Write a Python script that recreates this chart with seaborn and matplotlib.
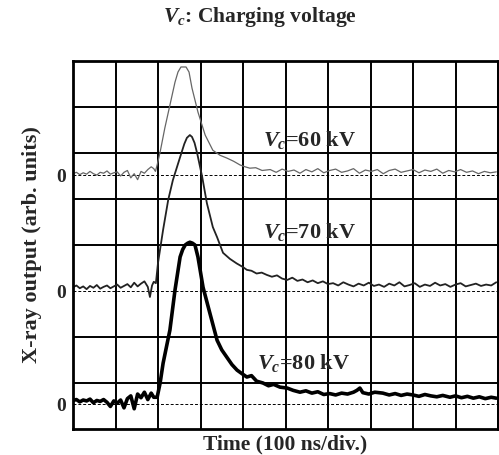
import numpy as np
import pandas as pd
import matplotlib
matplotlib.use("Agg")
import matplotlib.pyplot as plt
import seaborn as sns

# -----------------------------------------------------------
# DATA (time in ns, amplitude in divisions above each trace's zero line)

t60 = [0, 8, 16, 24, 32, 40, 48, 56, 64, 72, 80, 88, 96, 104, 112, 120, 128, 136, 144, 152,
       160, 168, 176, 184, 190, 194, 198,
       205, 216, 228, 240, 247, 254, 266, 273, 280, 294, 311, 329, 346, 362, 378, 393, 405, 416,
       430, 445, 464,
       478, 492, 506, 520, 534, 548, 562, 576, 590, 604, 618, 632, 646, 660, 674, 688, 702, 716,
       730, 744, 758, 772, 786, 800, 814, 828, 842, 856, 870, 884, 898, 912, 926, 940, 954, 968,
       982, 996]
a60 = [0.03, 0.06, 0.01, 0.05, 0.02, 0.08, 0.03, 0.00, 0.06, 0.04, 0.09, 0.02, 0.05, 0.07, -0.02,
       0.06, 0.10, -0.06, 0.03, -0.10,
       0.08, 0.04, 0.12, 0.18, 0.14, 0.08, 0.22,
       0.50, 1.02, 1.52, 2.02, 2.24, 2.35, 2.35, 2.24, 1.89, 1.37, 0.87, 0.54, 0.43, 0.37, 0.30,
       0.22, 0.18, 0.15,
       0.16, 0.10, 0.12,
       0.06, 0.13, 0.08, 0.11, 0.04, 0.12, 0.07, 0.14, 0.05, 0.10, 0.13, 0.06, 0.09, 0.14, 0.04,
       0.11, 0.08, 0.12, 0.03, 0.10, 0.13, 0.06, 0.09, 0.12, 0.05, 0.11, 0.08, 0.13, 0.04, 0.10,
       0.07, 0.12, 0.06, 0.09, 0.03, 0.08, 0.05, 0.07]

t70 = [0, 8, 16, 24, 32, 40, 48, 56, 64, 72, 80, 88, 96, 104, 112, 120, 128, 136, 144, 152,
       160, 168, 176, 181, 186, 190, 195,
       200, 212, 224, 235, 252, 262, 268, 275, 280, 286, 292, 304, 315, 329, 339, 353, 369, 385,
       400, 409, 420, 432, 444, 456, 468, 480, 492, 504, 516, 528, 540, 552, 564, 576, 588, 600,
       612, 624, 636, 648, 660, 672, 684, 696, 708, 720, 732, 744, 756, 768, 780, 792, 804, 816,
       828, 840, 852, 864, 876, 888, 900, 912, 924, 936, 948, 960, 972, 984, 996]
a70 = [0.08, 0.12, 0.06, 0.10, 0.04, 0.11, 0.07, 0.13, 0.05, 0.09, 0.12, 0.06, 0.10, 0.14, 0.07,
       0.11, 0.15, 0.08, 0.18, 0.10,
       0.16, 0.21, 0.09, -0.13, 0.12, 0.20, 0.17,
       0.61, 1.33, 1.98, 2.41, 2.91, 3.20, 3.33, 3.39, 3.35, 3.22, 3.00, 2.48, 1.91, 1.39, 1.17,
       0.83, 0.70, 0.60,
       0.52, 0.46, 0.44, 0.38, 0.40, 0.35, 0.31, 0.34, 0.27, 0.24, 0.29, 0.22, 0.25, 0.19, 0.23,
       0.17, 0.21, 0.15, 0.17, 0.12, 0.19, 0.14, 0.10, 0.16, 0.12, 0.18, 0.11, 0.14, 0.09, 0.16,
       0.12, 0.19, 0.10, 0.13, 0.17, 0.09, 0.14, 0.11, 0.18, 0.12, 0.15, 0.09, 0.14, 0.17, 0.10,
       0.13, 0.16, 0.11, 0.14, 0.12, 0.19]

t80 = [0, 8, 16, 24, 32, 40, 48, 56, 64, 72, 80, 88, 96, 104, 112, 120, 128, 136, 144, 152,
       160, 168, 176, 184, 190, 198,
       205, 212, 228, 240, 252, 258, 264, 270, 275, 281, 287, 294, 306, 322, 339, 350, 362, 374,
       386, 398, 409, 420, 432, 447, 460, 472, 487, 504, 518, 534, 548, 562, 576, 590, 604, 618,
       632, 646, 660, 668, 675, 682, 696, 710, 729, 744, 758, 772, 786, 800, 814, 828, 842, 856,
       870, 887, 900, 914, 928, 942, 956, 970, 984, 996]
a80 = [0.08, 0.10, 0.05, 0.09, 0.07, 0.11, 0.03, 0.08, 0.06, 0.10, 0.04, -0.05, 0.07, 0.02, 0.09,
       -0.08, 0.12, 0.18, -0.10, 0.22,
       0.14, 0.26, 0.10, 0.24, 0.15, 0.15,
       0.46, 0.89, 1.61, 2.48, 3.20, 3.36, 3.46, 3.50, 3.52, 3.50, 3.46, 3.20, 2.54, 1.98, 1.39,
       1.18, 1.02, 0.86,
       0.74, 0.66, 0.59, 0.62, 0.50, 0.46, 0.40, 0.43, 0.37, 0.35, 0.30, 0.26, 0.29, 0.24, 0.27,
       0.21, 0.23, 0.20,
       0.24, 0.22, 0.26, 0.30, 0.35, 0.25, 0.22, 0.26, 0.24, 0.20, 0.23, 0.19, 0.22, 0.20, 0.17,
       0.21, 0.18, 0.16,
       0.19, 0.15, 0.18, 0.14, 0.17, 0.13, 0.16, 0.12, 0.15, 0.13]

voltages = ["60 kV", "70 kV", "80 kV"]
zero_levels = [5.52, 3.0, 0.54]   # divisions from the bottom of the screen

# -----------------------------------------------------------
# BUILD TABLE

frames = []
for v, t, a, z in zip(voltages, [t60, t70, t80], [a60, a70, a80], zero_levels):
    frames.append(pd.DataFrame({"time": t, "y": np.array(a) + z, "Vc": v}))
df = pd.concat(frames, ignore_index=True)

# -----------------------------------------------------------
# PLOT

sns.set_style("white")
plt.rcParams["font.family"] = ["Liberation Serif", "DejaVu Serif"]
plt.rcParams["font.weight"] = "bold"
plt.rcParams["mathtext.fontset"] = "custom"
plt.rcParams["mathtext.it"] = "Liberation Serif:italic:bold"
plt.rcParams["mathtext.rm"] = "Liberation Serif:bold"

fig = plt.figure(figsize=(4.99, 4.55), dpi=100)
ax = fig.add_axes([73 / 499, 1 - 429 / 455, 425 / 499, 368 / 455])

styles = {"60 kV": dict(color="#666666", lw=0.9),
          "70 kV": dict(color="#222222", lw=1.3),
          "80 kV": dict(color="black", lw=2.6)}
for v in voltages:
    sns.lineplot(data=df[df["Vc"] == v], x="time", y="y", ax=ax, legend=False,
                 estimator=None, sort=False, **styles[v])

ax.set_xlim(0, 1000)
ax.set_ylim(0, 8)

# screen graticule (minor grid) and zero lines (major, dashed)
ax.set_xticks(range(0, 1001, 100), minor=True)
ax.set_yticks([d for d in range(1, 8) if d != 3], minor=True)
ax.set_xticks([])
ax.set_yticks(zero_levels, ["0"] * 3)
ax.grid(which="minor", color="black", lw=1.4)
ax.grid(which="major", axis="y", color="black", lw=0.7, ls=(0, (3, 2)))
ax.tick_params(which="both", length=0)
ax.tick_params(axis="y", labelsize=14, pad=5)
for s in ax.spines.values():
    s.set_color("black")
    s.set_linewidth(2)

ax.set_xlabel("Time (100 ns/div.)", fontsize=15.5, fontweight="bold", labelpad=0.5)
ax.set_ylabel("X-ray output (arb. units)", fontsize=16, fontweight="bold", labelpad=10)

label_pos = {"60 kV": (447, 6.28), "70 kV": (447, 4.28), "80 kV": (433, 1.43)}
for v in voltages:
    x, y = label_pos[v]
    ax.text(x, y, "$V_c$=" + v, fontsize=16, fontweight="bold", va="center", ha="left")

fig.text(260 / 499, 1 - 17 / 455, "$V_c$: Charging voltage", fontsize=15.5,
         fontweight="bold", ha="center", va="center")

fig.savefig("out.png", dpi=100)
